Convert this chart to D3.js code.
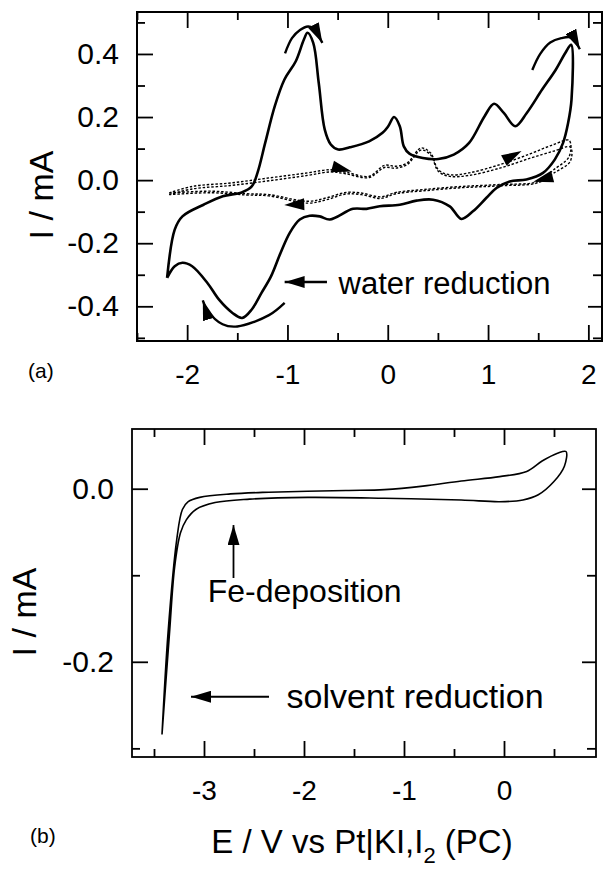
<!DOCTYPE html>
<html>
<head>
<meta charset="utf-8">
<script src="https://cdn.jsdelivr.net/npm/d3@7"></script>
<style>
  body { margin: 0; background: #fff; }
  text { font-family: "Liberation Sans", Arial, sans-serif; fill: #000; }
</style>
</head>
<body>
<div id="chart"></div>
<script>
// panel (a): solid CV, scan starts at the left vertex and returns to it
const aSolidE = [-2.200,-2.124,-2.047,-1.836,-1.645,-1.456,-1.356,-1.299,-1.222,-1.127,-1.030,-0.917,-0.837,-0.800,-0.743,-0.688,-0.628,-0.568,-0.494,-0.379,-0.186,-0.052,0.005,0.063,0.120,0.160,0.216,0.349,0.504,0.658,0.811,0.964,1.060,1.157,1.271,1.386,1.539,1.675,1.770,1.828,
  1.832,1.798,1.748,1.665,1.548,1.383,1.216,1.084,0.984,0.849,0.734,0.618,0.452,0.286,0.120,-0.080,-0.212,-0.346,-0.578,-0.678,-0.778,-0.877,-0.977,-1.069,-1.164,-1.260,-1.356,-1.452,-1.548,-1.682,-1.798,-1.950,-2.047,-2.124,-2.200];
const aSolidI = [-0.310,-0.157,-0.115,-0.078,-0.051,-0.039,-0.020,0.023,0.118,0.234,0.319,0.377,0.445,0.467,0.435,0.308,0.160,0.113,0.097,0.104,0.123,0.150,0.171,0.200,0.171,0.107,0.084,0.070,0.067,0.081,0.118,0.202,0.242,0.213,0.171,0.213,0.287,0.350,0.403,0.429,
  0.255,0.181,0.118,0.065,0.023,0.002,-0.004,-0.025,-0.056,-0.099,-0.123,-0.083,-0.062,-0.065,-0.078,-0.083,-0.091,-0.091,-0.125,-0.115,-0.113,-0.125,-0.167,-0.231,-0.305,-0.358,-0.410,-0.437,-0.421,-0.379,-0.326,-0.273,-0.262,-0.273,-0.310];

// panel (a): dotted cycles
const aDot1E = [-2.180,-1.950,-1.567,-1.183,-0.800,-0.570,-0.417,-0.186,-0.033,0.082,0.197,0.331,0.428,0.504,0.618,0.811,1.117,1.425,1.655,1.809,
  1.809,1.655,1.502,1.117,0.734,0.351,0.082,-0.071,-0.263,-0.417,-0.608,-0.800,-1.183,-1.414,-1.759,-2.180];
const aDot1I = [-0.041,-0.020,-0.009,0.007,0.023,0.033,0.025,0.012,0.047,0.044,0.055,0.102,0.086,0.033,0.017,0.023,0.049,0.084,0.113,0.126,
  0.075,0.033,-0.004,-0.014,-0.020,-0.030,-0.039,-0.053,-0.041,-0.039,-0.056,-0.067,-0.046,-0.043,-0.035,-0.041];
const aDot2E = [-2.180,-1.950,-1.567,-1.183,-0.800,-0.570,-0.417,-0.186,-0.033,0.082,0.197,0.331,0.428,0.504,0.618,0.811,1.117,1.425,1.655,1.820,
  1.820,1.655,1.502,1.117,0.734,0.351,0.082,-0.071,-0.263,-0.417,-0.608,-0.800,-1.183,-1.414,-1.759,-2.180];
const aDot2I = [-0.046,-0.028,-0.017,-0.002,0.015,0.026,0.020,0.008,0.040,0.038,0.050,0.095,0.080,0.028,0.012,0.015,0.038,0.070,0.092,0.105,
  0.060,0.022,-0.008,-0.018,-0.024,-0.034,-0.043,-0.058,-0.046,-0.044,-0.062,-0.073,-0.050,-0.047,-0.040,-0.046];

// panel (b)
const bE = [-3.420,-3.360,-3.273,-3.216,-3.158,-3.043,-2.735,-2.350,-1.581,-1.196,-0.811,-0.427,-0.043,0.227,0.381,0.535,0.620,
  0.604,0.497,0.343,0.189,-0.043,-0.427,-1.196,-1.965,-2.543,-2.889,-3.081,-3.177,-3.235,-3.293,-3.345,-3.420];
const bI = [-0.284,-0.167,-0.059,-0.024,-0.015,-0.010,-0.006,-0.004,-0.002,-0.001,0.003,0.009,0.014,0.020,0.032,0.041,0.043,
  0.026,0.008,-0.007,-0.013,-0.015,-0.013,-0.011,-0.010,-0.012,-0.016,-0.024,-0.036,-0.051,-0.090,-0.167,-0.284];

// ticks
const aXMajor = [-2, -1, 0, 1, 2];
const aXLabels = ["-2", "-1", "0", "1", "2"];
const aXMinor = [-2.5, -1.5, -0.5, 0.5, 1.5];
const aYMajor = [-0.4, -0.2, 0.0, 0.2, 0.4];
const aYLabels = ["-0.4", "-0.2", "0.0", "0.2", "0.4"];
const aYMinor = [-0.5, -0.3, -0.1, 0.1, 0.3, 0.5];
const bXMajor = [-3, -2, -1, 0];
const bXLabels = ["-3", "-2", "-1", "0"];
const bXMinor = [-3.5, -2.5, -1.5, -0.5, 0.5];
const bYMajor = [-0.2, 0.0];
const bYLabels = ["-0.2", "0.0"];
const bYMinor = [-0.3, -0.1];

const W = 605, H = 871;
const svg = d3.select("#chart").append("svg").attr("width", W).attr("height", H);

const defs = svg.append("defs");
defs.append("marker")
  .attr("id", "head")
  .attr("markerUnits", "userSpaceOnUse")
  .attr("viewBox", "0 0 20 12")
  .attr("refX", 20).attr("refY", 6)
  .attr("markerWidth", 20).attr("markerHeight", 12)
  .attr("orient", "auto")
  .append("path").attr("d", "M0,0 L20,6 L0,12 Z").attr("fill", "#000");

function panel(box, xDom, yDom, xMaj, xLab, xMin, yMaj, yLab, yMin, frameW) {
  const x = d3.scaleLinear().domain(xDom).range([box.left, box.left + box.w]);
  const y = d3.scaleLinear().domain(yDom).range([box.top + box.h, box.top]);
  const g = svg.append("g");
  const fix = (sel, size) => {
    sel.select(".domain").remove();
    sel.selectAll("line").attr("stroke", "#000").attr("stroke-width", 1.8);
    sel.selectAll("text").attr("font-size", size).attr("font-family", "Liberation Sans, Arial, sans-serif");
    sel.attr("font-family", null).attr("font-size", null);
  };
  g.append("g").attr("transform", `translate(0,${box.top + box.h})`)
    .call(d3.axisBottom(x).tickValues(xMaj).tickSize(-16).tickPadding(23).tickFormat((d, i) => xLab[i]))
    .call(s => fix(s, 28));
  g.append("g").attr("transform", `translate(0,${box.top + box.h})`)
    .call(d3.axisBottom(x).tickValues(xMin).tickSize(-8).tickFormat("")).call(s => fix(s, 0));
  g.append("g").attr("transform", `translate(0,${box.top})`)
    .call(d3.axisTop(x).tickValues(xMaj).tickSize(-16).tickFormat("")).call(s => fix(s, 0));
  g.append("g").attr("transform", `translate(0,${box.top})`)
    .call(d3.axisTop(x).tickValues(xMin).tickSize(-8).tickFormat("")).call(s => fix(s, 0));
  g.append("g").attr("transform", `translate(${box.left},0)`)
    .call(d3.axisLeft(y).tickValues(yMaj).tickSize(-16).tickPadding(18).tickFormat((d, i) => yLab[i]))
    .call(s => fix(s, 30));
  g.append("g").attr("transform", `translate(${box.left},0)`)
    .call(d3.axisLeft(y).tickValues(yMin).tickSize(-8).tickFormat("")).call(s => fix(s, 0));
  g.append("g").attr("transform", `translate(${box.left + box.w},0)`)
    .call(d3.axisRight(y).tickValues(yMaj).tickSize(-14).tickFormat("")).call(s => fix(s, 0));
  g.append("g").attr("transform", `translate(${box.left + box.w},0)`)
    .call(d3.axisRight(y).tickValues(yMin).tickSize(-9).tickFormat("")).call(s => fix(s, 0));
  g.append("rect").attr("x", box.left).attr("y", box.top).attr("width", box.w).attr("height", box.h)
    .attr("fill", "none").attr("stroke", "#000").attr("stroke-width", frameW);
  return { x, y };
}

function curve(sc, E, I, opts) {
  const pts = E.map((e, i) => [e, I[i]]);
  const line = d3.line().x(d => sc.x(d[0])).y(d => sc.y(d[1])).curve(d3.curveCatmullRom.alpha(0.5));
  svg.append("path").attr("d", line(pts)).attr("fill", "none").attr("stroke", "#000")
    .attr("stroke-width", opts.w).attr("stroke-dasharray", opts.dash || null)
    .attr("stroke-linejoin", "round");
}

function arrowPath(sc, pts, w) {
  const line = d3.line().x(d => sc.x(d[0])).y(d => sc.y(d[1])).curve(d3.curveCatmullRom.alpha(0.5));
  svg.append("path").attr("d", line(pts)).attr("fill", "none").attr("stroke", "#000")
    .attr("stroke-width", w).attr("marker-end", "url(#head)");
}

function head(sc, e, i, ang, len, wid) {
  const tx = sc.x(e), ty = sc.y(i);
  const r = ang * Math.PI / 180, c = Math.cos(r), s = Math.sin(r);
  const bx = tx - c * len, by = ty - s * len;
  const p = [[tx, ty], [bx - s * wid / 2, by + c * wid / 2], [bx + s * wid / 2, by - c * wid / 2]];
  svg.append("path").attr("d", "M" + p.map(q => q.join(",")).join("L") + "Z").attr("fill", "#000");
}

// ---- panel (a)
const A = panel({ left: 137, top: 12, w: 465, h: 329 }, [-2.5, 2.136], [-0.51, 0.533],
  aXMajor, aXLabels, aXMinor, aYMajor, aYLabels, aYMinor, 2);
curve(A, aDot1E, aDot1I, { w: 1.4, dash: "2.5,1.8" });
curve(A, aDot2E, aDot2I, { w: 1.4, dash: "2.5,1.8" });
curve(A, aSolidE, aSolidI, { w: 2.6 });

// curved arrows around the vertices / peaks
arrowPath(A, [[-1.024, 0.402], [-0.955, 0.450], [-0.875, 0.476], [-0.795, 0.487], [-0.745, 0.482], [-0.652, 0.435]], 2.4);
arrowPath(A, [[1.441, 0.349], [1.520, 0.400], [1.620, 0.436], [1.730, 0.450], [1.830, 0.452], [1.915, 0.415]], 2.4);
arrowPath(A, [[-1.028, -0.389], [-1.184, -0.428], [-1.500, -0.464], [-1.647, -0.457], [-1.800, -0.412], [-1.844, -0.381]], 2.4);
// water reduction
arrowPath(A, [[-0.606, -0.323], [-1.028, -0.323]], 2.4);
svg.append("text").attr("x", A.x(-0.491)).attr("y", A.y(-0.360)).attr("font-size", 31).text("water reduction");
// arrowheads on dotted curves
head(A, -0.359, 0.027, 15, 20, 12);
head(A, -1.032, -0.079, 178, 20, 12);
head(A, 1.334, 0.092, -28, 20, 12);
head(A, 1.451, -0.005, 165, 20, 12);

svg.append("text").attr("x", 28).attr("y", 378).attr("font-size", 21).text("(a)");
svg.append("text").attr("transform", "translate(53,195) rotate(-90)").attr("text-anchor", "middle")
  .attr("font-size", 34).text("I / mA");

// ---- panel (b)
const B = panel({ left: 132, top: 429, w: 464, h: 328 }, [-3.72, 0.92], [-0.31, 0.069],
  bXMajor, bXLabels, bXMinor, bYMajor, bYLabels, bYMinor, 1.8);
curve(B, bE, bI, { w: 1.6 });

arrowPath(B, [[-2.705, -0.1032], [-2.705, -0.042]], 1.8);
svg.append("text").attr("x", B.x(-2.963)).attr("y", B.y(-0.1306)).attr("font-size", 32).text("Fe-deposition");
arrowPath(B, [[-2.35, -0.2404], [-3.13, -0.2404]], 1.8);
svg.append("text").attr("x", B.x(-2.174)).attr("y", B.y(-0.2534)).attr("font-size", 34).text("solvent reduction");

svg.append("text").attr("x", 30).attr("y", 843).attr("font-size", 21).text("(b)");
svg.append("text").attr("transform", "translate(36,612) rotate(-90)").attr("text-anchor", "middle")
  .attr("font-size", 34).text("I / mA");

const xt = svg.append("text").attr("x", 362).attr("y", 853).attr("text-anchor", "middle").attr("font-size", 33);
xt.append("tspan").text("E / V vs Pt|KI,I");
xt.append("tspan").attr("font-size", 22).attr("dy", 10).text("2");
xt.append("tspan").attr("dy", -10).text(" (PC)");
</script>
</body>
</html>
